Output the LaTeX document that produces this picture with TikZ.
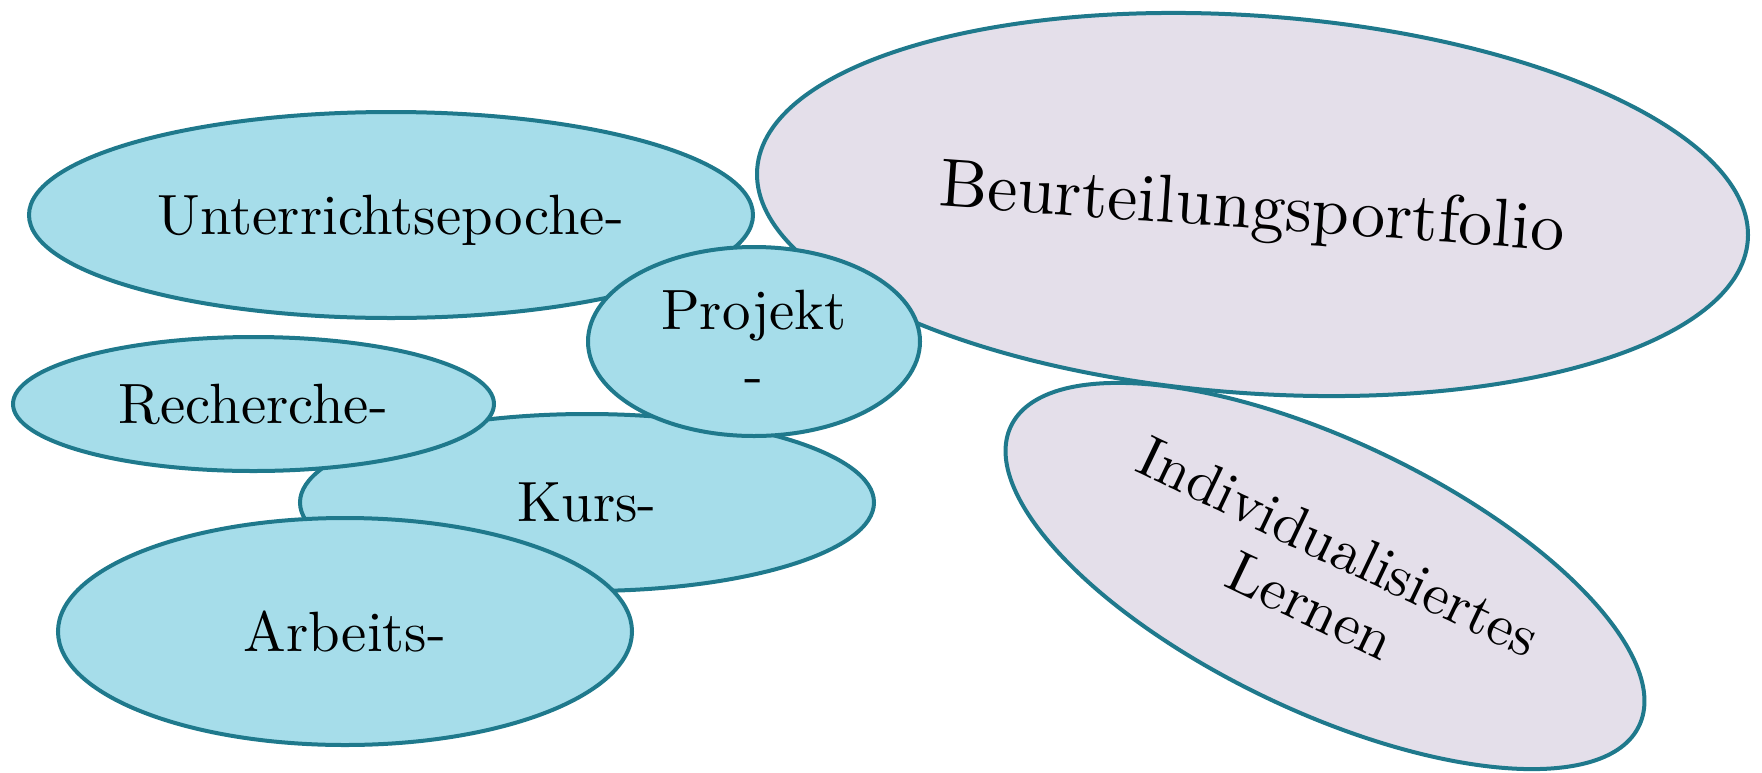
\documentclass[tikz,border=0pt]{standalone}
\usetikzlibrary{shapes.geometric}
\DeclareFontFamily{TU}{lmrten}{}
\DeclareFontShape{TU}{lmrten}{m}{n}{<-> "[lmroman10-regular]:+tlig;"}{}
\definecolor{edgeteal}{RGB}{31,121,140}
\definecolor{fillblue}{RGB}{166,221,234}
\definecolor{fillpurple}{RGB}{228,223,234}
\tikzset{
  bubble/.style={ellipse, draw=edgeteal, line width=2pt, inner sep=0pt, align=center,
    font=\fontfamily{lmrten}\fontsize{28.4}{32}\selectfont},
  bluebubble/.style={bubble, fill=fillblue},
  purplebubble/.style={bubble, fill=fillpurple},
}
\begin{document}
\begin{tikzpicture}[x=0.5pt,y=-0.5pt]
\useasboundingbox (0,0) rectangle (1762,772);
\node[purplebubble, rotate=-4.1, minimum width=496.6pt, minimum height=188.7pt,
  font=\fontfamily{lmrten}\fontsize{34}{40}\selectfont, text depth=0pt] (beur) at (1252.5,204.5) {Beurteilungsportfolio};
\node[purplebubble, rotate=-25.5, minimum width=348pt, minimum height=135pt,
  font=\fontfamily{lmrten}\fontsize{29.2}{32.5}\selectfont] (indiv) at (1325,576) {Individualisiertes\\Lernen};
\node[bluebubble, minimum width=362pt, minimum height=103pt, text depth=0pt] (unter) at (391,215) {Unterrichtsepoche-};
\node[bluebubble, minimum width=287pt, minimum height=88.5pt] (kurs) at (587,502.5) {Kurs-};
\node[bluebubble, minimum width=240.5pt, minimum height=67pt] (rech) at (253.5,404) {Recherche-};
\node[bluebubble, minimum width=287pt, minimum height=113.5pt] (arb) at (345,631.5) {Arbeits-};
\node[bluebubble, minimum width=166pt, minimum height=94.5pt] (proj) at (754,341.5) {Projekt\\-};
\end{tikzpicture}
\end{document}
